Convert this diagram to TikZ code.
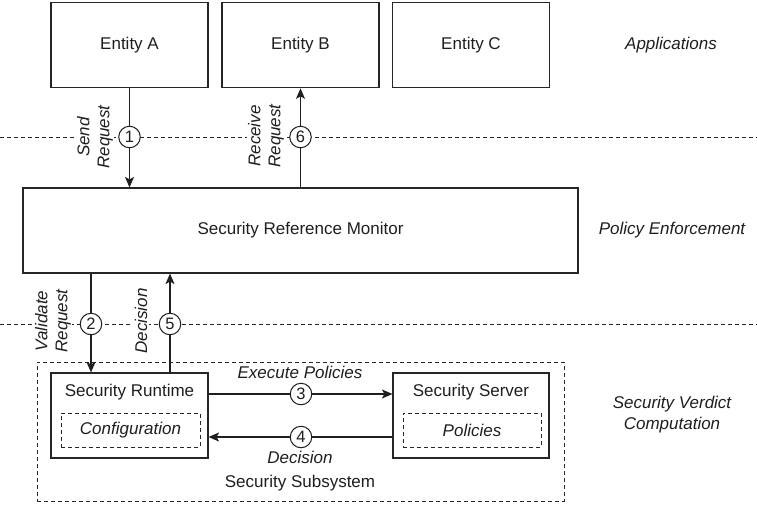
\documentclass[tikz,border=0pt]{standalone}
\usepackage{fontspec}
\setmainfont{Liberation Sans}
\usetikzlibrary{arrows.meta}
\begin{document}
\begin{tikzpicture}[x=1pt,y=-1pt,
  font=\fontsize{17pt}{20.4pt}\selectfont,
  every node/.style={text=black!88},
  box/.style={draw=black!85, line width=1.1pt, minimum width=157pt, minimum height=85pt, inner sep=0pt},
  dbox/.style={draw=black!85, line width=0.9pt, dash pattern=on 4pt off 3pt, minimum height=34pt, inner sep=0pt},
  sep/.style={draw=black!85, line width=0.9pt, dash pattern=on 4pt off 3pt},
  arr/.style={draw=black!88, line width=1.2pt, -{Stealth[length=10.5pt,width=9pt,inset=2.5pt]}},
  num/.style={circle, draw=black!88, fill=white, line width=1pt, minimum size=21.5pt, inner sep=0pt, font=\fontsize{16.5pt}{16.5pt}\selectfont},
  lab/.style={font=\fontsize{17pt}{20pt}\selectfont\itshape, align=center, inner sep=1.5pt},
  rlab/.style={lab, rotate=90, fill=white},
  side/.style={font=\fontsize{17pt}{21pt}\selectfont\itshape, align=center}
]
\fill[white] (0,0) rectangle (757,504);
\useasboundingbox (0,0) rectangle (757,504);

% separators
\coordinate (s1a) at (0,137);
\coordinate (s1b) at (757,137);
\coordinate (s2a) at (0,324);
\coordinate (s2b) at (757,324);
\draw[sep] (s1a) -- (s1b);
\draw[sep] (s2a) -- (s2b);

% boxes
\node[box] (A) at (129.5,45.3) {Entity A};
\node[box] (B) at (300.5,45.3) {Entity B};
\node[box] (C) at (471,45.3) {Entity C};
\node[box, minimum width=555pt] (M) at (300.5,230.5) {Security Reference Monitor};

\node[dbox, minimum width=527pt, minimum height=139pt] (sub) at (300.5,431.5) {};
\node[box, fill=white] (R) at (129.5,415.5) {};
\node[box, fill=white, minimum width=156pt] (S) at (471,415.5) {};
\node (Rt) at (129.5,392) {Security Runtime};
\node (St) at (471,392) {Security Server};
\node[dbox, minimum width=139pt] (cfg) at (130.5,430) {\itshape Configuration};
\node[dbox, minimum width=138pt] (pol) at (472,430) {\itshape Policies};
\node (subt) at (300,483) {Security Subsystem};

% connector labels (rotated, covering the separators)
\node[rlab] (l1) at (95,137) {Send\\Request};
\node[rlab] (l6) at (266,136) {Receive\\Request};
\node[rlab] (l2) at (53,321) {Validate\\Request};
\node[rlab] (l5) at (141,321) {Decision};
\node[lab] (l3) at (300,372) {Execute Policies};
\node[lab] (l4) at (300,457) {Decision};

% connectors
\coordinate (x2) at (91,0);
\coordinate (x5) at (170,0);
\coordinate (y3) at (0,394);
\coordinate (y4) at (0,437);
\draw[arr] (A.south) -- (A.south |- M.north);
\draw[arr] (B.south |- M.north) -- (B.south);
\draw[arr] (x2 |- M.south) -- (x2 |- R.north);
\draw[arr] (x5 |- R.north) -- (x5 |- M.south);
\draw[arr] (y3 -| R.east) -- (y3 -| S.west);
\draw[arr] (y4 -| S.west) -- (y4 -| R.east);

% step numbers
\node[num] (n1) at (129.5,137) {1};
\node[num] (n6) at (300.5,137) {6};
\node[num] (n2) at (91,324) {2};
\node[num] (n5) at (170,324) {5};
\node[num] (n3) at (301,394) {3};
\node[num] (n4) at (301,437) {4};

% layer labels
\node[side] (app) at (671,45) {Applications};
\node[side] (pe) at (672,230) {Policy Enforcement};
\node[side] (svc) at (672,415) {Security Verdict\\Computation};
\end{tikzpicture}
\end{document}
